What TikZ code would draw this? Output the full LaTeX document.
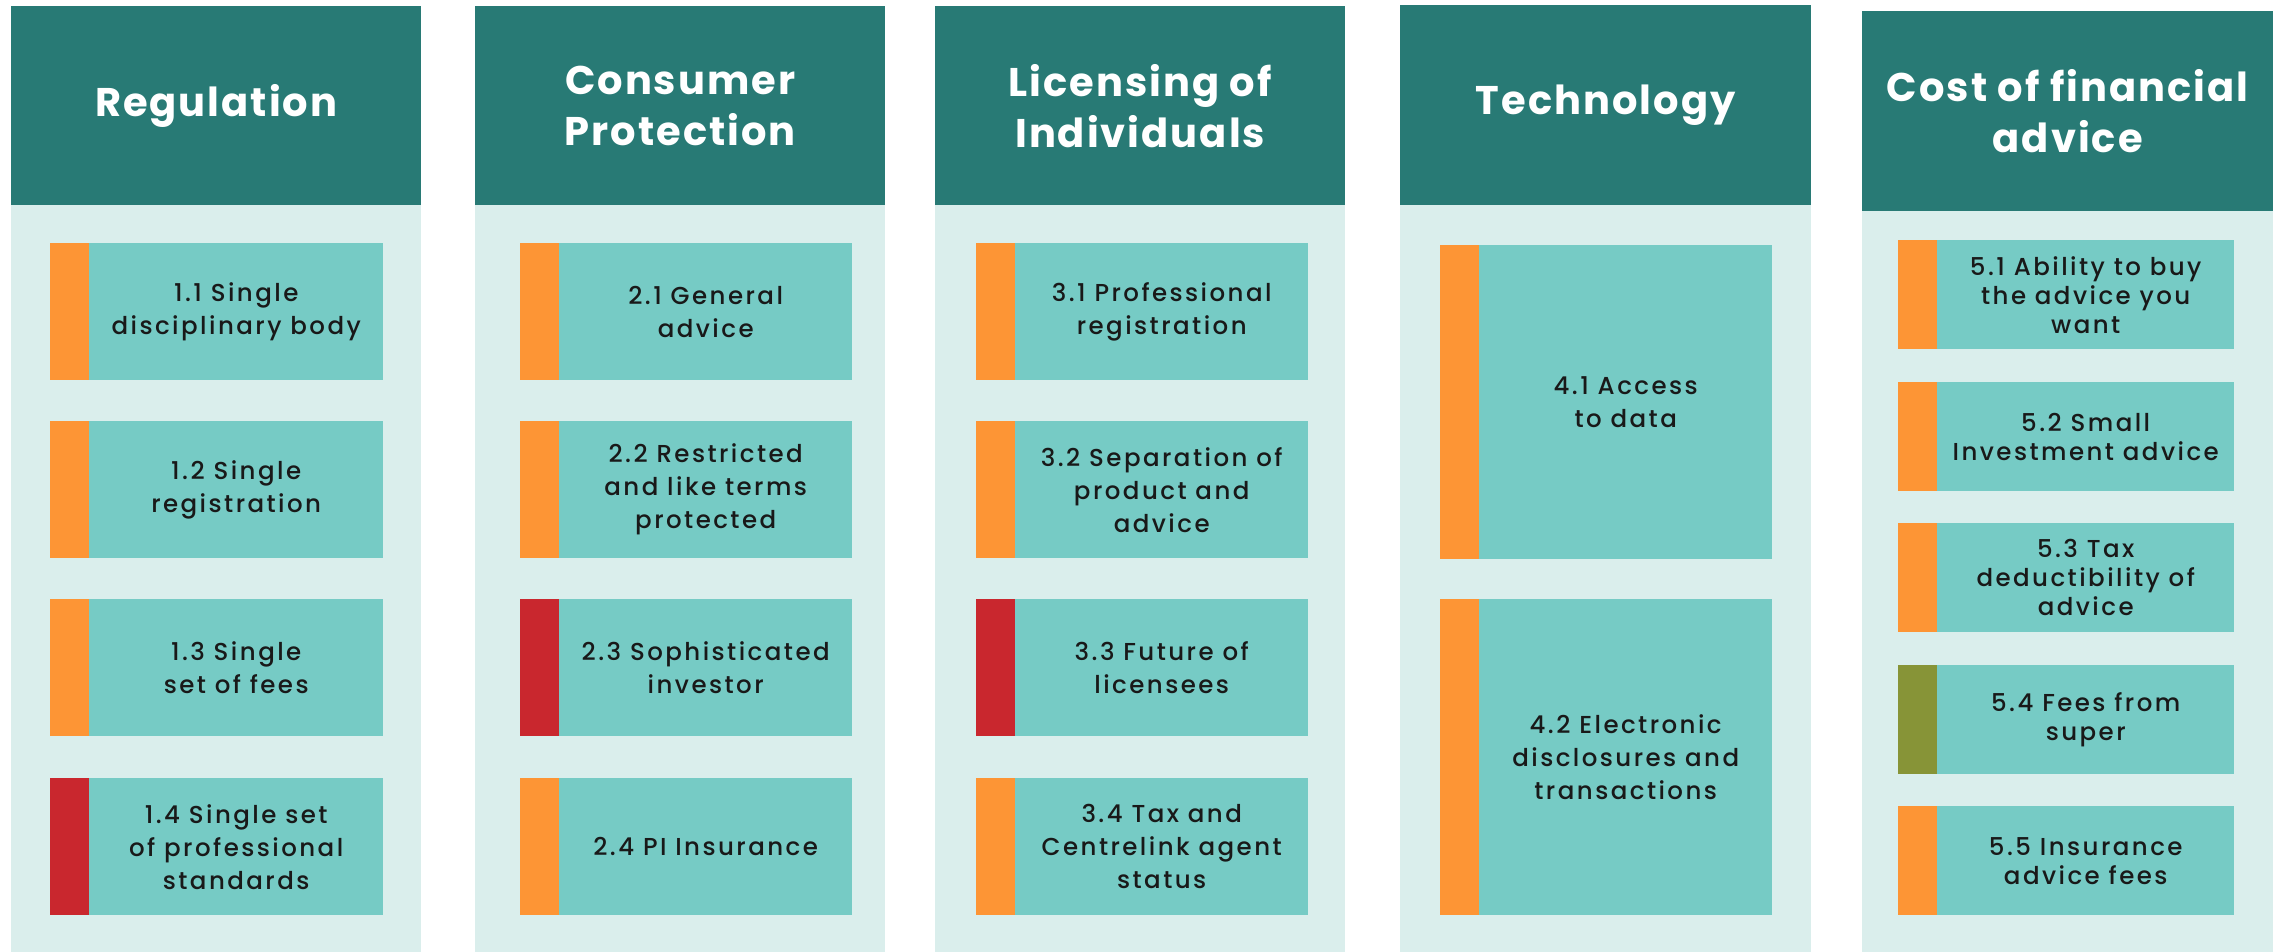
\documentclass[tikz,border=0pt]{standalone}
\usepackage{fontspec}
\setmainfont{Poppins}[LetterSpace=10, UprightFont=* Medium, BoldFont=* Bold]
\newfontfamily\hdrfont{Poppins}[LetterSpace=5, UprightFont=*, BoldFont=* Bold]
\definecolor{hdrcol}{HTML}{287A75}
\definecolor{bodycol}{HTML}{DAEEEC}
\definecolor{cellcol}{HTML}{76CBC5}
\definecolor{orng}{HTML}{FD9535}
\definecolor{rd}{HTML}{C9272E}
\definecolor{olv}{HTML}{879437}
\tikzset{
  hdrbox/.style={fill=hdrcol, draw=none, inner sep=0pt, anchor=north west, minimum width=410pt, text=white, align=center, font=\hdrfont\bfseries\fontsize{40}{51}\selectfont},
  bodybox/.style={fill=bodycol, draw=none, inner sep=0pt, anchor=north west, minimum width=410pt},
  cellbox/.style={fill=cellcol, draw=none, inner sep=0pt, anchor=north west, align=center, text=black!90, font=\fontsize{24.5}{33}\selectfont},
  barbox/.style={draw=none, inner sep=0pt, anchor=north east, minimum width=39pt}
}
\newcommand{\cell}[8]{%
  \node[cellbox, minimum width=#4, minimum height=#5, #8] (#1) at (#2,#3) {#7};
  \node[barbox, fill=#6, minimum height=#5] (#1bar) at (#1.north west) {};
}
\begin{document}
\begin{tikzpicture}[x=1pt,y=-1pt]
\useasboundingbox (0,0) rectangle (2275,952);
\fill[white] (0,0) rectangle (2275,952);
% column bodies
\node[bodybox, minimum height=747pt] (b1) at (11,205) {};
\node[bodybox, minimum height=747pt] (b2) at (475,205) {};
\node[bodybox, minimum height=747pt] (b3) at (935,205) {};
\node[bodybox, minimum width=411pt, minimum height=747pt] (b4) at (1400,205) {};
\node[bodybox, minimum width=411pt, minimum height=741pt] (b5) at (1862,211) {};
% headers
\node[hdrbox, minimum height=199pt] (h1) at (11,6) {Regulation};
\node[hdrbox, minimum height=199pt] (h2) at (475,6) {Consumer\\Protection};
\node[hdrbox, minimum height=199pt] (h3) at (935,6) {Licensing of\\Individuals};
\node[hdrbox, minimum width=411pt, minimum height=200pt] (h4) at (1400,5) {Technology};
\node[hdrbox, minimum width=411pt, minimum height=200pt] (h5) at (1862,11) {Cost of financial\\advice};
% column 1
\cell{c11}{89}{243}{294}{137}{orng}{1.1 Single\\disciplinary body}{}
\cell{c12}{89}{421}{294}{137}{orng}{1.2 Single\\registration}{}
\cell{c13}{89}{599}{294}{137}{orng}{1.3 Single\\set of fees}{}
\cell{c14}{89}{778}{294}{137}{rd}{1.4 Single set\\of professional\\standards}{}
% column 2
\cell{c21}{559}{243}{293}{137}{orng}{2.1 General\\advice}{}
\cell{c22}{559}{421}{293}{137}{orng}{2.2 Restricted\\and like terms\\protected}{}
\cell{c23}{559}{599}{293}{137}{rd}{2.3 Sophisticated\\investor}{}
\cell{c24}{559}{778}{293}{137}{orng}{2.4 PI Insurance}{}
% column 3
\cell{c31}{1015}{243}{293}{137}{orng}{3.1 Professional\\registration}{}
\cell{c32}{1015}{421}{293}{137}{orng}{3.2 Separation of\\product and\\advice}{}
\cell{c33}{1015}{599}{293}{137}{rd}{3.3 Future of\\licensees}{}
\cell{c34}{1015}{778}{293}{137}{orng}{3.4 Tax and\\Centrelink agent\\status}{}
% column 4
\cell{c41}{1479}{245}{293}{314}{orng}{4.1 Access\\to data}{}
\cell{c42}{1479}{599}{293}{316}{orng}{4.2 Electronic\\disclosures and\\transactions}{}
% column 5
\cell{c51}{1937}{240}{297}{109}{orng}{5.1 Ability to buy\\the advice you\\want}{font=\fontsize{24.5}{29}\selectfont}
\cell{c52}{1937}{382}{297}{109}{orng}{5.2 Small\\Investment advice}{font=\fontsize{24.5}{29}\selectfont}
\cell{c53}{1937}{523}{297}{109}{orng}{5.3 Tax\\deductibility of\\advice}{font=\fontsize{24.5}{29}\selectfont}
\cell{c54}{1937}{665}{297}{109}{olv}{5.4 Fees from\\super}{font=\fontsize{24.5}{29}\selectfont}
\cell{c55}{1937}{806}{297}{109}{orng}{5.5 Insurance\\advice fees}{font=\fontsize{24.5}{29}\selectfont}
\end{tikzpicture}
\end{document}
